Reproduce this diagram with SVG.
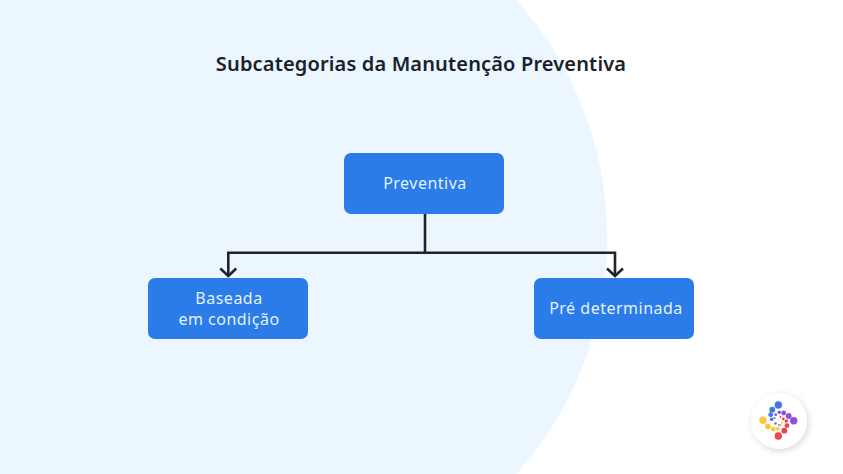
<svg xmlns="http://www.w3.org/2000/svg" width="843" height="474" viewBox="0 0 843 474">
<style>
.box{fill:#2b7be9}
.lbl{font-family:"Noto Sans","Liberation Sans",sans-serif;font-size:16px;fill:#e3f2ff;text-anchor:middle;letter-spacing:.5px}
.ttl{font-family:"Noto Sans","Liberation Sans",sans-serif;font-size:20px;font-weight:600;fill:#1b2129;text-anchor:middle;letter-spacing:.15px}
.wire{fill:none;stroke:#1f2427;stroke-width:2.6}
.b{fill:#3f78e0}.p{fill:#8a52dc}.r{fill:#ef4450}.y{fill:#fbc53c}
</style>
<defs>
<filter id="sh" x="-40%" y="-40%" width="180%" height="180%"><feDropShadow dx="1.5" dy="2" stdDeviation="3" flood-color="#000" flood-opacity=".16"/></filter>
<marker id="arr" markerUnits="userSpaceOnUse" markerWidth="20" markerHeight="14" refX="9" refY="10" orient="0" viewBox="0 0 20 14"><path d="M1 2.500 9 10 17 2.500" fill="none" stroke="#1f2427" stroke-width="2.600"/></marker>
</defs>
<rect width="843" height="474" fill="#fff"/>
<circle cx="252" cy="237" r="355" fill="#ebf6ff"/>
<text id="title" class="ttl" x="421" y="71">Subcategorias da Manutenção Preventiva</text>
<g id="connectors">
<path class="wire" d="M425 214V252.700"/>
<path class="wire" d="M425 252.700H228.300V276" marker-end="url(#arr)"/>
<path class="wire" d="M425 252.700H615V276" marker-end="url(#arr)"/>
</g>
<g id="node-preventiva"><rect class="box" x="344" y="153" width="160" height="61" rx="7"/><text class="lbl" x="425" y="189">Preventiva</text></g>
<g id="node-baseada"><rect class="box" x="148" y="278" width="160" height="61" rx="7"/><text class="lbl" x="229" y="304">Baseada</text><text class="lbl" x="229" y="325">em condição</text></g>
<g id="node-pre"><rect class="box" x="534" y="278" width="160" height="61" rx="7"/><text class="lbl" x="616" y="314">Pré determinada</text></g>
<g id="logo">
<circle cx="779" cy="421" r="28" fill="#fff" filter="url(#sh)"/>
<g class="b"><circle cx="778.300" cy="405" r="3.700"/><circle cx="772.300" cy="409.700" r="2.900"/><circle cx="770.700" cy="414.700" r="2.400"/><circle cx="771.700" cy="419.300" r="1.800"/><circle cx="775.500" cy="423.500" r="1.200"/><circle cx="779" cy="425" r="1"/></g>
<g class="p"><circle cx="793.700" cy="420.700" r="3.700"/><circle cx="788.700" cy="416" r="2.900"/><circle cx="783.700" cy="413" r="2.400"/><circle cx="779.300" cy="412.300" r="1.800"/><circle cx="775.700" cy="414.700" r="1.400"/><circle cx="774.500" cy="418" r="1"/></g>
<g class="r"><circle cx="778.300" cy="436" r="3.700"/><circle cx="784.300" cy="430.700" r="2.900"/><circle cx="787" cy="425.700" r="2.400"/><circle cx="786.300" cy="421" r="1.800"/><circle cx="783.300" cy="419" r="1.400"/><circle cx="780.500" cy="417" r="1"/></g>
<g class="y"><circle cx="763" cy="420.300" r="3.700"/><circle cx="768" cy="426.300" r="2.900"/><circle cx="773.300" cy="429" r="2.400"/><circle cx="777.700" cy="428.700" r="1.800"/><circle cx="780.300" cy="425.300" r="1.300"/><circle cx="782" cy="422.500" r="1"/></g>
</g>
</svg>
